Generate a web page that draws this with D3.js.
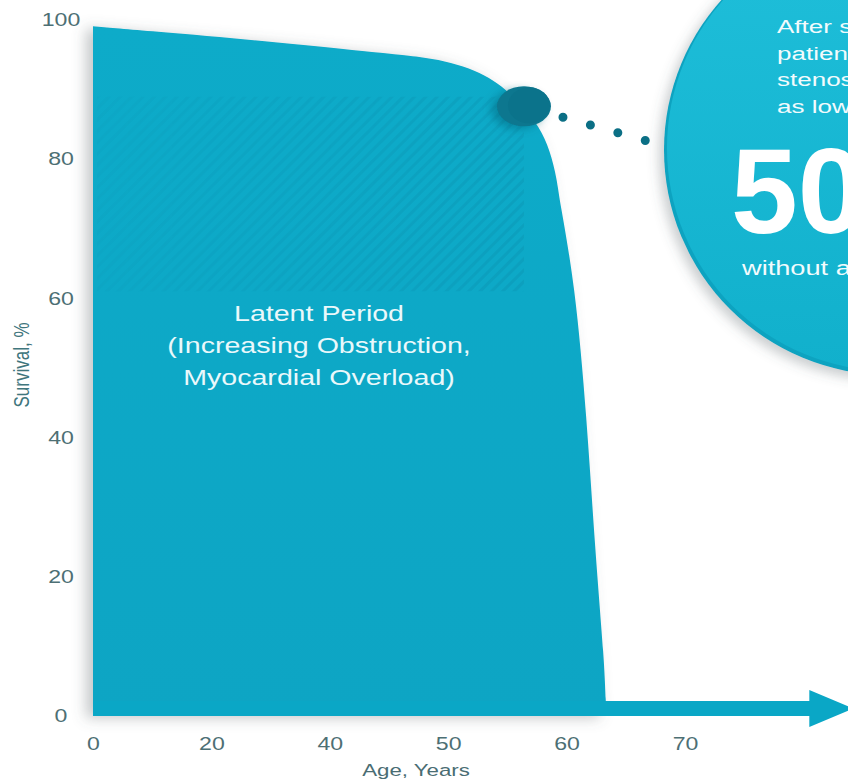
<!DOCTYPE html>
<html>
<head>
<meta charset="utf-8">
<script src="https://cdn.jsdelivr.net/npm/d3@7/dist/d3.min.js"></script>
<style>
  html, body { margin: 0; padding: 0; background: #ffffff; overflow: hidden; }
  svg { display: block; font-family: "Liberation Sans", Arial, Helvetica, sans-serif; }
</style>
</head>
<body>
<svg id="chart" width="848" height="781"></svg>
<script>
// Axis ticks
const ageTicks = [0, 20, 40, 50, 60, 70];
const survivalTicks = [0, 20, 40, 60, 80, 100];

// Natural history curve (age in years, survival in %)
const ages =     [0,    14.2, 33.8, 45.3, 47.6, 49.7, 51.8, 53.5, 54.8, 56.4, 57.7, 58.6, 59.2, 59.4, 60.7, 61.7, 62.4, 63.2, 63.3, 63.4];
const survival = [99.1, 98.1, 96.6, 95.1, 94.7, 94.1, 93.1, 91.7, 90.1, 87.6, 84.6, 81.3, 77.0, 74.1, 62.2, 43.0, 23.9, 7.6,  1.9,  0];

// Onset of symptoms on the curve
const onsetAge = 56.4;
const onsetSurvival = 87.6;

// Time axis arrow: head starts / tip (years)
const arrowHeadAge = 80.5;
const arrowTipAge = 84.2;

// Text
const periodLines = ["Latent Period", "(Increasing Obstruction,", "Myocardial Overload)"];
const calloutLines = ["After symptom onset,", "patients with severe aortic", "stenosis have survival rates", "as low as"];
const calloutValue = "50%";
const calloutFoot = "without aortic valve replacement";

const svg = d3.select("#chart");
const defs = svg.append("defs");

// Evenly spaced age ticks (the axis is not proportional in years)
const x0 = 93, step = 118.4;
const x = d3.scaleLinear().domain(ageTicks).range(ageTicks.map((d, i) => x0 + i * step));
const y = d3.scaleLinear().domain([0, 100]).range([716, 20]);

// Filters and patterns
const sh = defs.append("filter").attr("id", "areaShadow")
  .attr("x", "-20%").attr("y", "-10%").attr("width", "140%").attr("height", "120%");
sh.append("feDropShadow").attr("dx", -7).attr("dy", 2).attr("stdDeviation", 7)
  .attr("flood-color", "#5a6468").attr("flood-opacity", 0.35);

const csh = defs.append("filter").attr("id", "circleShadow")
  .attr("x", "-30%").attr("y", "-30%").attr("width", "160%").attr("height", "160%");
csh.append("feDropShadow").attr("dx", -5).attr("dy", 5).attr("stdDeviation", 6)
  .attr("flood-color", "#4f5a5e").attr("flood-opacity", 0.3);

const dsh = defs.append("filter").attr("id", "dotShadow")
  .attr("x", "-60%").attr("y", "-60%").attr("width", "220%").attr("height", "220%");
dsh.append("feDropShadow").attr("dx", -6).attr("dy", 3).attr("stdDeviation", 4)
  .attr("flood-color", "#0a5f73").attr("flood-opacity", 0.45);

const hatch = defs.append("pattern").attr("id", "hatch")
  .attr("patternUnits", "userSpaceOnUse").attr("width", 8).attr("height", 8)
  .attr("patternTransform", "rotate(45)");
hatch.append("rect").attr("x", 0).attr("y", 0).attr("width", 3).attr("height", 8)
  .attr("fill", "#0a7f9b").attr("opacity", 0.2);

// Stripes fade in toward the onset marker
const hg = defs.append("linearGradient").attr("id", "hatchFade")
  .attr("x1", 0).attr("y1", 0).attr("x2", 1).attr("y2", 0);
hg.append("stop").attr("offset", "0%").attr("stop-color", "#fff").attr("stop-opacity", 0.25);
hg.append("stop").attr("offset", "100%").attr("stop-color", "#fff").attr("stop-opacity", 1);
const hm = defs.append("mask").attr("id", "hatchMask")
  .attr("maskContentUnits", "objectBoundingBox");
hm.append("rect").attr("width", 1).attr("height", 1).attr("fill", "url(#hatchFade)");

const cg = defs.append("linearGradient").attr("id", "circleFill")
  .attr("x1", 0).attr("y1", 0).attr("x2", 0).attr("y2", 1);
cg.append("stop").attr("offset", "0%").attr("stop-color", "#1fbfda");
cg.append("stop").attr("offset", "100%").attr("stop-color", "#11b0cc");

const ag = defs.append("linearGradient").attr("id", "areaFill")
  .attr("x1", 0).attr("y1", 0).attr("x2", 0).attr("y2", 1);
ag.append("stop").attr("offset", "0%").attr("stop-color", "#0babc9");
ag.append("stop").attr("offset", "100%").attr("stop-color", "#09a5c4");

// Survival area
const pts = ages.map((a, i) => ({ a, s: survival[i] }));
const area = d3.area().x(d => x(d.a)).y0(y(0)).y1(d => y(d.s)).curve(d3.curveBasis);

defs.append("clipPath").attr("id", "areaClip").append("path").attr("d", area(pts));

svg.append("path").attr("d", area(pts))
  .attr("fill", "url(#areaFill)")
  .attr("filter", "url(#areaShadow)");

// Striped band in the upper part of the latent period
svg.append("g").attr("clip-path", "url(#areaClip)")
  .append("rect")
  .attr("mask", "url(#hatchMask)")
  .attr("x", x(0) + 4).attr("y", y(89))
  .attr("width", x(onsetAge) - x(0) - 4).attr("height", y(61) - y(89))
  .attr("fill", "url(#hatch)");

// Time arrow along the baseline
const bandH = 15, headH = 37;
const arrowPath = d3.path();
arrowPath.moveTo(x(0), y(0));
arrowPath.lineTo(x(0), y(0) - bandH);
arrowPath.lineTo(x(arrowHeadAge), y(0) - bandH);
arrowPath.lineTo(x(arrowHeadAge), y(0) - bandH / 2 - headH / 2);
arrowPath.lineTo(x(arrowTipAge), y(0) - bandH / 2);
arrowPath.lineTo(x(arrowHeadAge), y(0) - bandH / 2 + headH / 2);
arrowPath.lineTo(x(arrowHeadAge), y(0));
arrowPath.closePath();
svg.append("path").attr("d", arrowPath.toString()).attr("fill", "#0aa7c6");

// Big callout circle
const ccx = 889, ccy = 150, cr = 225;
svg.append("circle").attr("cx", ccx).attr("cy", ccy).attr("r", cr)
  .attr("fill", "#0ea3c0").attr("filter", "url(#circleShadow)");
svg.append("circle").attr("cx", ccx + 1).attr("cy", ccy - 2).attr("r", cr - 2)
  .attr("fill", "url(#circleFill)");

// Dotted leader from onset marker to callout
const ox = x(onsetAge), oy = y(onsetSurvival);
svg.append("line")
  .attr("x1", ox + 39).attr("y1", oy + 11)
  .attr("x2", 655).attr("y2", oy + 37)
  .attr("stroke", "#0b6f85").attr("stroke-width", 9)
  .attr("stroke-linecap", "round").attr("stroke-dasharray", "0 28.5");

// Onset marker
svg.append("ellipse").attr("cx", ox).attr("cy", oy).attr("rx", 27).attr("ry", 20)
  .attr("fill", "#0b778f").attr("filter", "url(#dotShadow)");
svg.append("ellipse").attr("cx", ox + 5).attr("cy", oy - 1).attr("rx", 21).attr("ry", 18)
  .attr("fill", "#0b738b");

// Axes
const sx = 1.32;
const yAxis = svg.append("g").attr("transform", `translate(${x0},0)`)
  .call(d3.axisLeft(y).tickValues(survivalTicks).tickSize(0).tickPadding(0));
yAxis.select(".domain").remove();
yAxis.selectAll("text")
  .attr("font-family", "Liberation Sans, Arial, sans-serif")
  .attr("font-size", 17.5).attr("fill", "#4d6f74")
  .attr("text-anchor", "middle")
  .attr("x", -32 / sx)
  .attr("transform", `scale(${sx},1)`);

const xAxis = svg.append("g").attr("transform", `translate(0,${y(0)})`)
  .call(d3.axisBottom(x).tickValues(ageTicks).tickSize(0).tickPadding(22).tickFormat(d3.format("d")));
xAxis.select(".domain").remove();
xAxis.selectAll("text")
  .attr("font-family", "Liberation Sans, Arial, sans-serif")
  .attr("font-size", 17.5).attr("fill", "#4d6f74")
  .attr("transform", `scale(${sx},1)`);

svg.append("text")
  .attr("transform", `translate(416,776) scale(1.35,1)`)
  .attr("text-anchor", "middle")
  .attr("font-size", 16.5).attr("fill", "#4a6d73")
  .text("Age, Years");

svg.append("text")
  .attr("transform", `translate(29,365) scale(1.3,1) rotate(-90)`)
  .attr("text-anchor", "middle")
  .attr("font-size", 17).attr("fill", "#3f767d")
  .text("Survival, %");

// Latent period label
svg.append("g").attr("transform", "translate(319,0)")
  .selectAll("text").data(periodLines).join("text")
  .attr("transform", (d, i) => `translate(0,${321 + i * 32}) scale(1.3,1)`)
  .attr("text-anchor", "middle")
  .attr("font-size", 22).attr("fill", "#eaf8fb")
  .text(d => d);

// Callout text
svg.append("g").selectAll("text").data(calloutLines).join("text")
  .attr("transform", (d, i) => `translate(777,${33 + i * 26.5}) scale(1.37,1)`)
  .attr("font-size", 19).attr("fill", "#f2fbfd")
  .text(d => d);

svg.append("text")
  .attr("transform", "translate(731,233)")
  .attr("font-size", 120).attr("font-weight", "bold").attr("fill", "#ffffff")
  .text(calloutValue);

svg.append("text")
  .attr("transform", "translate(742,275) scale(1.36,1)")
  .attr("font-size", 20).attr("fill", "#f2fbfd")
  .text(calloutFoot);
</script>
</body>
</html>
